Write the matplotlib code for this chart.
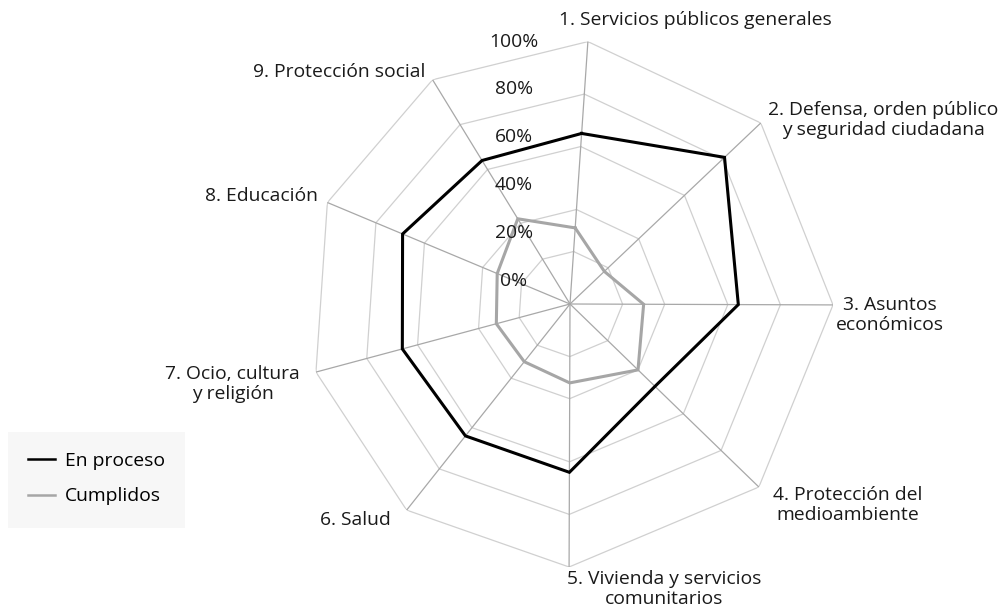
import numpy as np
import matplotlib
matplotlib.use("Agg")
import matplotlib.pyplot as plt
from matplotlib.patches import Rectangle

plt.rcParams['font.family'] = ['Open Sans', 'DejaVu Sans']

# categories (spoke labels) in clockwise order from the top
categories = [
    "1. Servicios públicos generales",
    "2. Defensa, orden público\ny seguridad ciudadana",
    "3. Asuntos\neconómicos",
    "4. Protección del\nmedioambiente",
    "5. Vivienda y servicios\ncomunitarios",
    "6. Salud",
    "7. Ocio, cultura\ny religión",
    "8. Educación",
    "9. Protección social",
]

# values in %
en_proceso = [65, 81, 64, 45, 64, 64, 66, 69, 64]
cumplidos = [29, 18, 28, 36, 30, 28, 29, 30, 38]

tick_labels = ["0%", "20%", "40%", "60%", "80%", "100%"]

# spoke angles as drawn in the reference (degrees, counter-clockwise from east)
spoke_deg = [86.1, 43.5, -0.2, -44.1, -90.2, -128.4, -165.0, 157.3, 121.5]
ring_levels = [20, 36, 60, 80, 100]

theta = np.radians(spoke_deg)
theta_closed = np.append(theta, theta[0])

W, H = 1000, 607
fig = plt.figure(figsize=(W / 100, H / 100), dpi=100)
cx, cy, rad = 570, 304, 263
ax = fig.add_axes([(cx - rad) / W, (H - cy - rad) / H, 2 * rad / W, 2 * rad / H],
                  projection='polar')
ax.set_ylim(0, 100)
ax.axis('off')

# grid: polygon rings and spokes
for lv in ring_levels:
    ax.plot(theta_closed, [lv] * len(theta_closed), color='#d0d0d0', lw=0.9, zorder=1)
for t in theta:
    ax.plot([t, t], [0, 100], color='#a8a8a8', lw=0.9, zorder=1)

ax.plot(theta_closed, en_proceso + en_proceso[:1], color='black', lw=2.2,
        zorder=3, label='En proceso', solid_joinstyle='miter')
ax.plot(theta_closed, cumplidos + cumplidos[:1], color='#a6a6a6', lw=2.2,
        zorder=2, label='Cumplidos', solid_joinstyle='miter')

fs = 13.9

# category labels (pixel positions of label centres)
label_pos = [(695, 20, 'center'), (883, 120, 'center'), (890, 315, 'center'),
             (848, 505, 'center'), (664, 589, 'center'), (391, 520, 'right'),
             (300, 384, 'right'), (318, 196, 'right'), (425, 72, 'right')]
for txt, (px, py, ha) in zip(categories, label_pos):
    fig.text(px / W, 1 - py / H, txt, ha=ha, va='center', fontsize=fs,
             color='#1a1a1a', linespacing=1.2, multialignment='center')

# radial tick labels along the top spoke
tick_y = [281, 233, 185, 137, 89, 42]
for txt, py in zip(tick_labels, tick_y):
    fig.text(514 / W, 1 - py / H, txt, ha='center', va='center', fontsize=fs,
             color='#1a1a1a')

# legend on a light grey panel
fig.patches.append(Rectangle((8 / W, 1 - 528 / H), 177 / W, 96 / H,
                             transform=fig.transFigure, facecolor='#f7f7f7',
                             edgecolor='none', zorder=0))
leg = fig.legend(loc='upper left', bbox_to_anchor=(28 / W, 1 - 452 / H),
                 frameon=False, fontsize=fs, handlelength=1.4, handletextpad=0.52,
                 borderpad=0, labelspacing=0.9, borderaxespad=0)
for ln in leg.get_lines():
    ln.set_linewidth(1.8)

fig.savefig('out.png', dpi=100)
